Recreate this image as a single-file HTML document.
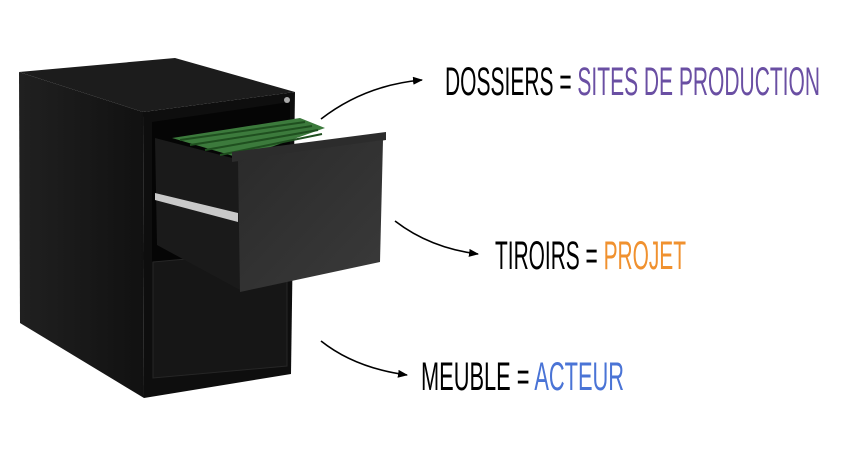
<!DOCTYPE html>
<html><head><meta charset="utf-8"><style>
html,body{margin:0;padding:0;background:#fff;width:844px;height:451px;overflow:hidden}
svg{display:block}
text{font-family:"Liberation Sans Narrow","Liberation Sans",sans-serif;font-size:40px}
</style></head><body>
<svg width="844" height="451" viewBox="0 0 844 451" xmlns="http://www.w3.org/2000/svg">
<defs>
<linearGradient id="side" x1="0" y1="0" x2="1" y2="0"><stop offset="0" stop-color="#202020"/><stop offset="1" stop-color="#111"/></linearGradient>
<linearGradient id="dfront" x1="0" y1="0" x2="1" y2="1"><stop offset="0" stop-color="#2a2a2a"/><stop offset="1" stop-color="#3a3a3a"/></linearGradient>
<marker id="ah" markerWidth="10" markerHeight="8" refX="9" refY="4" orient="auto" markerUnits="userSpaceOnUse"><path d="M0,0 L10,4 L0,8 z" fill="#000"/></marker>
</defs>
<polygon points="19,72 175,58 295,92 143,112" fill="#1c1c1c"/>
<polygon points="19,72 143,112 144,398 20,323" fill="url(#side)"/>
<polygon points="143,112 295,92 291,374 144,398" fill="#0e0e0e"/>
<polygon points="152,122 290,102 290,250 152,262" fill="#050505"/>
<polygon points="153,262 287,250 287,366 153,378" fill="#161616" stroke="#262626"/>
<polygon points="155,138 240,160 240,290 157,245" fill="#1a1a1a"/>
<polygon points="155,193 238,213 238,222 155,200" fill="#c9c9c9"/>
<polygon points="172,138 300,118 325,128 240,158" fill="#3c7a3c"/>
<g stroke="#1f4f1f" stroke-width="2"><line x1="180" y1="140" x2="305" y2="122"/><line x1="190" y1="145" x2="312" y2="126"/><line x1="205" y1="150" x2="318" y2="130"/><line x1="220" y1="155" x2="322" y2="134"/></g>
<polygon points="232,152 386,132 386,140 232,162" fill="#2c2c2c"/>
<polygon points="238,160 383,140 380,262 240,292" fill="url(#dfront)"/>
<circle cx="287" cy="100" r="3" fill="#aaa"/>
<g fill="none" stroke="#000" stroke-width="1.6">
<path d="M321,119 Q365,85 422,80" marker-end="url(#ah)"/>
<path d="M395,221 Q430,248 478,254" marker-end="url(#ah)"/>
<path d="M321,341 Q355,368 407,375" marker-end="url(#ah)"/>
</g>
<text x="445" y="95" textLength="375" lengthAdjust="spacingAndGlyphs"><tspan fill="#000">DOSSIERS = </tspan><tspan fill="#6a4fa3">SITES DE PRODUCTION</tspan></text>
<text x="495" y="269" textLength="191" lengthAdjust="spacingAndGlyphs"><tspan fill="#000">TIROIRS = </tspan><tspan fill="#f0912f">PROJET</tspan></text>
<text x="421" y="390" textLength="203" lengthAdjust="spacingAndGlyphs"><tspan fill="#000">MEUBLE = </tspan><tspan fill="#4a74d6">ACTEUR</tspan></text>
</svg>
</body></html>
